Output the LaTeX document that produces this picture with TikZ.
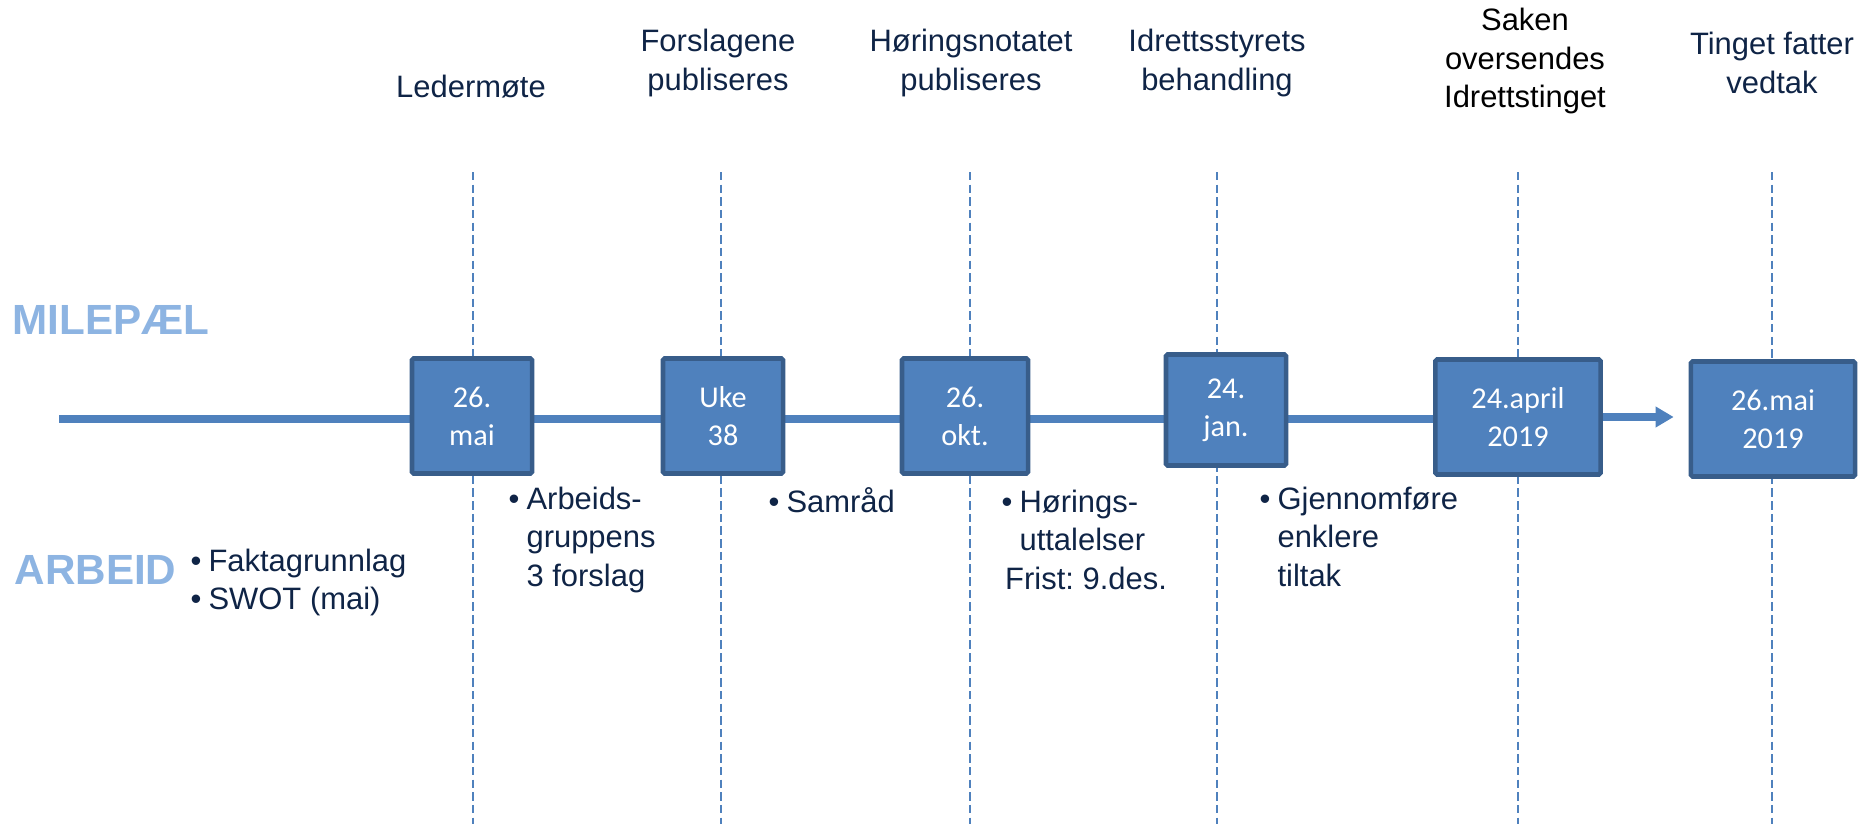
\documentclass[tikz,border=0pt]{standalone}
\usepackage{fontspec}
\setmainfont{Liberation Sans}
\newfontfamily\datefont{Carlito}
\usetikzlibrary{arrows.meta}

\definecolor{boxblue}{RGB}{79,129,189}
\definecolor{boxedge}{RGB}{56,93,138}
\definecolor{navy}{RGB}{15,36,70}
\definecolor{headblue}{RGB}{141,180,226}

\tikzset{
  datebox/.style={draw=boxedge, fill=boxblue, line width=1.3pt, rounded corners=0.5pt,
    text=white, font=\datefont\fontsize{8.6}{10.8}\selectfont, align=center,
    inner sep=0pt, minimum height=1.15cm},
  phase/.style={text=navy, font=\fontsize{8.8}{10.9}\selectfont, align=center, inner sep=0pt},
  work/.style={text=navy, font=\fontsize{8.8}{11}\selectfont, inner sep=0pt, anchor=base west},
  rowhead/.style={text=headblue, font=\bfseries\fontsize{12}{14}\selectfont, inner sep=0pt, anchor=west},
  guide/.style={boxblue, line width=0.4pt, dash pattern=on 2.4pt off 1.2pt},
  timeline/.style={boxblue, line width=2pt}
}

\begin{document}
\begin{tikzpicture}[x=0.01cm, y=-0.01cm]
\useasboundingbox (0,0) rectangle (1862,824);

% guides, one per milestone
\foreach \gx in {473,721,970,1217,1518,1772}
  \draw[guide] (\gx,172) -- (\gx,824);

\coordinate (start) at (59,419);
\coordinate (stop) at (1518,419);
\draw[timeline] (start) -- (stop);

\node[rowhead] (milepael) at (12,320) {MILEPÆL};
\node[rowhead] (arbeid) at (14,570) {ARBEID};

% milestones
\node[datebox, minimum width=1.20cm] (mai) at (472,416) {26.\\mai};
\node[datebox, minimum width=1.20cm] (uke) at (723,416) {Uke\\38};
\node[datebox, minimum width=1.26cm] (okt) at (965,416) {26.\\okt.};
\node[datebox, minimum width=1.20cm, minimum height=1.11cm] (jan) at (1226,410) {24.\\jan.};
\node[datebox, minimum width=1.65cm] (april) at (1518,417) {24.april\\2019};
\node[datebox, minimum width=1.64cm] (tinget) at (1773,419) {26.mai\\2019};

\draw[timeline, -{Triangle[length=5.1pt, width=5.6pt]}, shorten >=0.15cm]
  (april.east) -- (april.east -| tinget.west);

% what happens
\node[phase] (ledermote) at (471,87) {Ledermøte};
\node[phase] (forslag) at (718,63) {Forslagene\\publiseres};
\node[phase] (notat) at (971,63) {Høringsnotatet\\publiseres};
\node[phase] (styret) at (1217,63) {Idrettsstyrets\\behandling};
\node[phase, text=black] (saken) at (1525,61) {Saken\\oversendes\\Idrettstinget};
\node[phase] (vedtak) at (1772,63) {Tinget fatter\\vedtak};

% work items
\node[work] (fakta) at (190,571) {\begin{tabular}[t]{@{}l@{\hspace{2pt}}l@{}}
  \textbullet & Faktagrunnlag\\ \textbullet & SWOT (mai)\end{tabular}};
\node[work] (gruppe) at (508,509) {\begin{tabular}[t]{@{}l@{\hspace{2pt}}l@{}}
  \textbullet & Arbeids-\\ & gruppens\\ & 3 forslag\end{tabular}};
\node[work] (samrad) at (768,512) {\begin{tabular}[t]{@{}l@{\hspace{2pt}}l@{}}
  \textbullet & Samråd\end{tabular}};
\node[work] (horing) at (1001,512) {\begin{tabular}[t]{@{}l@{\hspace{2pt}}l@{}}
  \textbullet & Hørings-\\ & uttalelser\\ \multicolumn{2}{@{}l@{}}{\hspace{1pt}Frist:\ 9.des.}\end{tabular}};
\node[work] (tiltak) at (1259,509) {\begin{tabular}[t]{@{}l@{\hspace{2pt}}l@{}}
  \textbullet & Gjennomføre\\ & enklere\\ & tiltak\end{tabular}};

\end{tikzpicture}
\end{document}
